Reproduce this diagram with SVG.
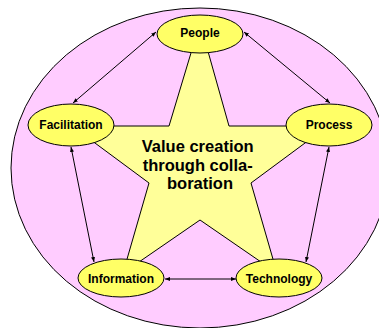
<svg xmlns="http://www.w3.org/2000/svg" width="379" height="328" viewBox="0 0 379 328">
<defs>
<marker id="ah" viewBox="0 0 10 10" refX="10" refY="5" markerWidth="5" markerHeight="5" orient="auto-start-reverse" markerUnits="userSpaceOnUse">
<path d="M0,1 L10,5 L0,9 z" fill="#000"/>
</marker>
<style>
.node ellipse{fill:#FFFF66;stroke:#000;stroke-width:1}
.node text{font-family:"Liberation Sans",Arial,sans-serif;font-weight:bold;font-size:12px;text-anchor:middle;fill:#000}
.conn line{stroke:#000;stroke-width:1;marker-start:url(#ah);marker-end:url(#ah)}
</style>
</defs>
<rect width="379" height="328" fill="#fff"/>
<g id="background">
<ellipse cx="200" cy="168" rx="189" ry="160" fill="#FFCCFF" stroke="#000" stroke-width="1"/>
</g>
<g id="star">
<polygon points="200,23 229,126 328,126 251,183 277,273 200,220 123,273 149,183 72,126 169,126" fill="#FFFF99" stroke="#000" stroke-width="1"/>
<text font-family="Liberation Sans,Arial,sans-serif" font-weight="bold" font-size="16.5" text-anchor="middle" fill="#000">
<tspan x="200" y="152">Value creation</tspan>
<tspan x="200" y="170.5">through colla-</tspan>
<tspan x="200" y="189">boration</tspan>
</text>
</g>
<g class="conn" id="connectors">
<line x1="156" y1="32" x2="73" y2="103"/>
<line x1="244" y1="32" x2="330" y2="103"/>
<line x1="71" y1="147" x2="94" y2="262"/>
<line x1="329" y1="147" x2="306" y2="262"/>
<line x1="165" y1="279" x2="236" y2="279"/>
</g>
<g class="node" id="people"><ellipse cx="200" cy="34" rx="43" ry="19"/><text x="200" y="36.5">People</text></g>
<g class="node" id="facilitation"><ellipse cx="71" cy="125" rx="43" ry="21"/><text x="71" y="129">Facilitation</text></g>
<g class="node" id="process"><ellipse cx="329" cy="125" rx="43" ry="21"/><text x="329" y="129">Process</text></g>
<g class="node" id="information"><ellipse cx="121" cy="278" rx="43" ry="19"/><text x="121" y="283">Information</text></g>
<g class="node" id="technology"><ellipse cx="279" cy="278" rx="43" ry="19"/><text x="279" y="283">Technology</text></g>
</svg>
